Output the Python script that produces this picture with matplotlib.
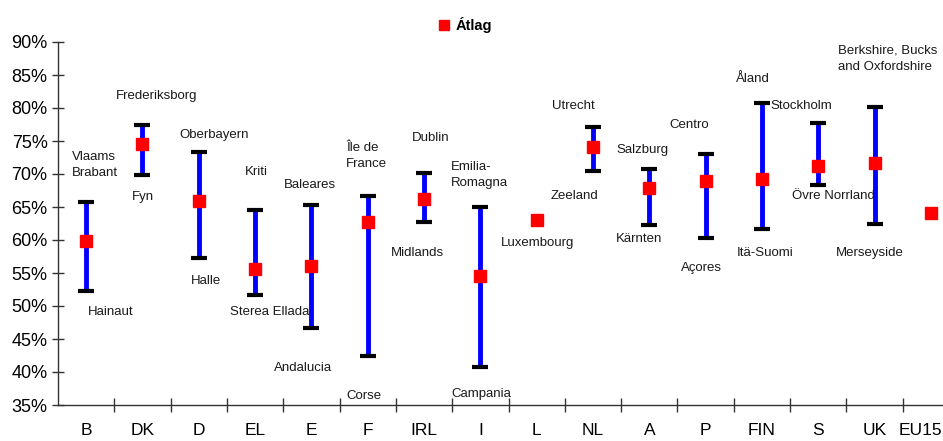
import numpy as np
import matplotlib
matplotlib.use('Agg')
import matplotlib.pyplot as plt
import matplotlib.transforms as mtransforms
from matplotlib.ticker import FuncFormatter

plt.rcParams['font.family'] = ['Liberation Sans', 'DejaVu Sans']

# Data (percent)
countries = ['B', 'DK', 'D', 'EL', 'E', 'F', 'IRL', 'I', 'L', 'NL',
             'A', 'P', 'FIN', 'S', 'UK', 'EU15']
means = [59.8, 74.6, 65.9, 55.6, 56.0, 62.7, 66.2, 54.5, 63.1, 74.1,
         67.9, 69.0, 69.2, 71.2, 71.7, 64.1]
highs = [65.7, 77.5, 73.4, 64.6, 65.3, 66.7, 70.1, 65.0, np.nan, 77.1,
         70.7, 73.1, 80.7, 77.8, 80.1, np.nan]
lows = [52.3, 69.8, 57.2, 51.6, 46.6, 42.4, 62.7, 40.7, np.nan, 70.5,
        62.3, 60.3, 61.6, 68.3, 62.4, np.nan]

# Region labels: text, x (category position), y (percent), alignment
region_labels = [
    ('Vlaams\nBrabant', -0.25, 71.4, 'left'),
    ('Hainaut', 0.44, 49.1, 'center'),
    ('Frederiksborg', 1.26, 81.8, 'center'),
    ('Fyn', 1.0, 66.5, 'center'),
    ('Oberbayern', 2.27, 75.9, 'center'),
    ('Halle', 2.13, 53.8, 'center'),
    ('Kriti', 3.02, 70.3, 'center'),
    ('Sterea Ellada', 3.26, 49.1, 'center'),
    ('Baleares', 3.97, 68.3, 'center'),
    ('Andalucia', 3.85, 40.6, 'center'),
    ('Île de\nFrance', 4.62, 72.7, 'left'),
    ('Corse', 4.94, 36.4, 'center'),
    ('Dublin', 6.12, 75.5, 'center'),
    ('Midlands', 5.88, 58.1, 'center'),
    ('Emilia-\nRomagna', 6.48, 69.8, 'left'),
    ('Campania', 7.01, 36.6, 'center'),
    ('Luxembourg', 8.02, 59.5, 'center'),
    ('Utrecht', 8.65, 80.35, 'center'),
    ('Zeeland', 8.68, 66.7, 'center'),
    ('Salzburg', 9.88, 73.7, 'center'),
    ('Kärnten', 9.82, 60.1, 'center'),
    ('Centro', 10.71, 77.4, 'center'),
    ('Açores', 10.92, 55.8, 'center'),
    ('Åland', 11.84, 84.4, 'center'),
    ('Stockholm', 12.70, 80.35, 'center'),
    ('Itä-Suomi', 12.05, 58.1, 'center'),
    ('Övre Norrland', 13.27, 66.7, 'center'),
    ('Berkshire, Bucks\nand Oxfordshire', 13.36, 87.5, 'left'),
    ('Merseyside', 13.91, 58.0, 'center'),
]

x = np.arange(len(countries))
means = np.array(means)
highs = np.array(highs)
lows = np.array(lows)

fig = plt.figure(figsize=(9.43, 4.41), dpi=100)
ax = fig.add_axes([58 / 943, 36 / 441, 901 / 943, 363 / 441])

# range bars with caps, then the averages on top
ax.vlines(x, lows, highs, color='#0000ff', linewidth=3.5, zorder=2)
ax.plot(x, highs, linestyle='none', marker='_', markersize=11,
        markeredgewidth=3, color='black', zorder=3)
ax.plot(x, lows, linestyle='none', marker='_', markersize=11,
        markeredgewidth=3, color='black', zorder=3)
ax.plot(x, means, linestyle='none', marker='s', markersize=8,
        color='#ff0000', zorder=4, label='Átlag')

for txt, tx, ty, ha in region_labels:
    ax.text(tx, ty, txt, ha=ha, va='center', fontsize=9.5, color='#1a1a1a',
            linespacing=1.45, multialignment='left')

ax.set_xlim(-0.5, len(countries) - 0.5)
ax.set_ylim(35, 90)
ax.set_yticks(np.arange(35, 91, 5))
ax.yaxis.set_major_formatter(FuncFormatter(lambda v, p: f'{v:.0f}%'))
ax.set_xticks(x)
ax.set_xticklabels(countries)
ax.set_xticks(x[:-1] + 0.5, minor=True)

for s in ['top', 'right']:
    ax.spines[s].set_visible(False)
for s in ['left', 'bottom']:
    ax.spines[s].set_color('#333333')
    ax.spines[s].set_linewidth(1.0)

ax.tick_params(axis='y', direction='inout', length=9, width=1,
               color='#333333', labelsize=13, pad=3)
ax.tick_params(axis='x', which='major', length=0, labelsize=12.5, pad=13)
ax.tick_params(axis='x', which='minor', direction='inout', length=10,
               width=1, color='#333333')

# keep the last label (EU15) inside the figure edge
last = ax.get_xticklabels()[-1]
last.set_horizontalalignment('right')
last.set_transform(last.get_transform() +
                   mtransforms.ScaledTranslation(11 / 100, 0, fig.dpi_scale_trans))

fig.legend(loc='center', bbox_to_anchor=(465 / 943, 1 - 25 / 441),
           frameon=False, handlelength=0.8, handletextpad=0.4,
           markerscale=0.9, prop={'weight': 'bold', 'size': 10.5})

fig.savefig('out.png', dpi=100)
